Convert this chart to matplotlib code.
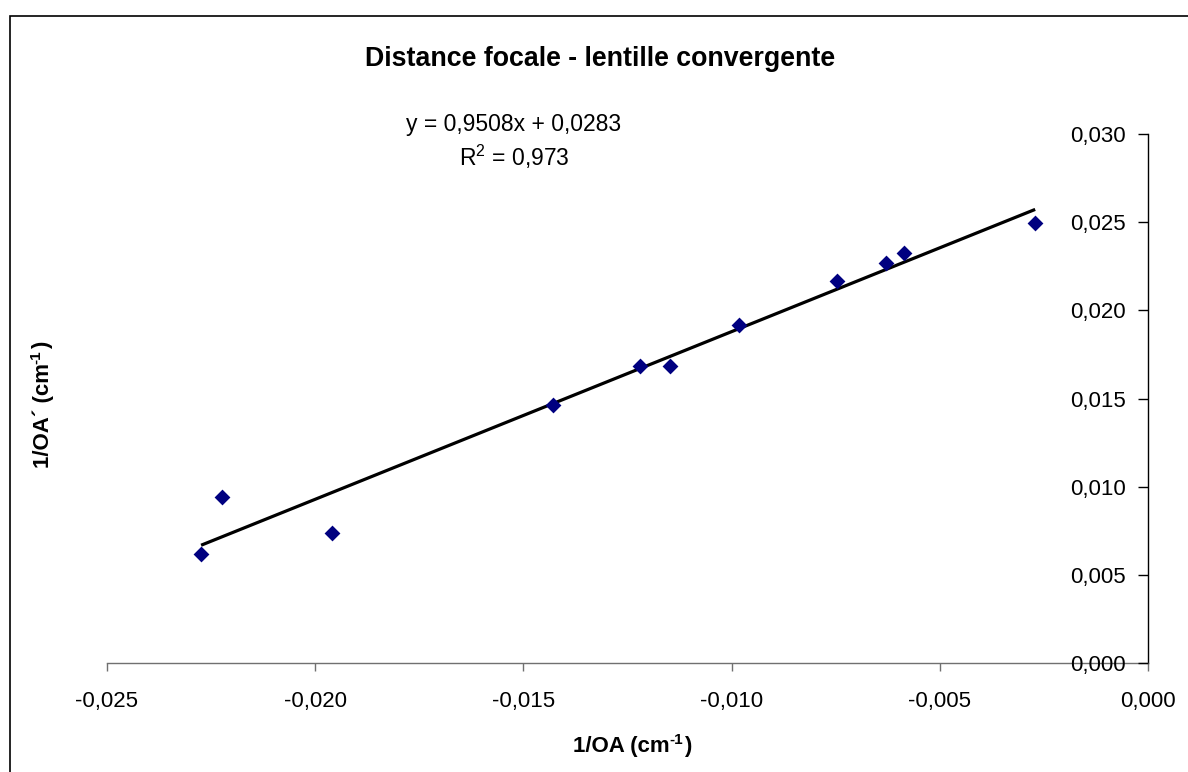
import matplotlib
matplotlib.use("Agg")
import matplotlib.pyplot as plt
from matplotlib.patches import Rectangle
import numpy as np

# Data
inv_OA = [-0.02274, -0.02224, -0.01960, -0.01429, -0.01220, -0.01148,
          -0.00982, -0.00747, -0.00629, -0.00586, -0.00271]
inv_OAp = [0.00618, 0.00941, 0.00737, 0.01463, 0.01684, 0.01684,
           0.01917, 0.02166, 0.02268, 0.02325, 0.02495]
slope = 0.9508
intercept = 0.0283
r2 = 0.973
x_ticks = [-0.025, -0.020, -0.015, -0.010, -0.005, 0.000]
y_ticks = [0.000, 0.005, 0.010, 0.015, 0.020, 0.025, 0.030]

plt.rcParams['font.family'] = ['Liberation Sans', 'DejaVu Sans']

W, H = 1188, 772
fig = plt.figure(figsize=(W / 100, H / 100), dpi=100)

# chart area border
fig.patches.append(Rectangle((10 / W, 0 - 0.01), 1.2, 1 - 16 / H + 0.01,
                             transform=fig.transFigure, fill=False,
                             edgecolor='black', linewidth=1.2))

ax = fig.add_axes([107 / W, 1 - 663 / H, (1148 - 107) / W, (663 - 134) / H])
ax.set_xlim(-0.025, 0.0)
ax.set_ylim(0.0, 0.030)

ax.scatter(inv_OA, inv_OAp, marker='D', s=65, color='#000080', zorder=3,
           linewidths=0)
xs = np.array([min(inv_OA), max(inv_OA)])
ax.plot(xs, slope * xs + intercept, color='black', lw=2.3, zorder=2,
        solid_capstyle='butt')

for s in ['top', 'right']:
    ax.spines[s].set_visible(False)
ax.spines['left'].set_position(('axes', 1.0))
ax.spines['left'].set_color('black')
ax.spines['bottom'].set_color('#707070')
ax.spines['left'].set_linewidth(1.0)
ax.spines['bottom'].set_linewidth(1.0)
ax.spines['left'].set_zorder(1)
ax.spines['bottom'].set_zorder(1)

ax.set_xticks(x_ticks)
ax.set_yticks(y_ticks)
fmt = lambda v: ('%.3f' % v).replace('.', ',').replace('-0,000', '0,000')
ax.set_xticklabels([fmt(v) for v in x_ticks])
ax.set_yticklabels([fmt(v) for v in y_ticks])
ax.tick_params(axis='x', direction='out', length=6, width=1, color='#707070',
               labelsize=16, pad=14)
ax.tick_params(axis='y', direction='out', length=7, width=1, color='black',
               labelsize=16, pad=9)
ax.patch.set_alpha(0)

fig.text(600 / W, 1 - 59 / H, 'Distance focale - lentille convergente',
         ha='center', va='center', fontsize=19.3, fontweight='bold')
eq = 'y = %sx + %s' % (('%.4f' % slope).replace('.', ','),
                       ('%.4f' % intercept).replace('.', ','))
fig.text(514 / W, 1 - 142 / H,
         eq + '\n$\\mathregular{R^2}$ = ' + ('%.3f' % r2).replace('.', ','),
         ha='center', va='center', fontsize=16.5, linespacing=1.3)

bold = dict(fontweight='bold', annotation_clip=False)

# x axis label: "1/OA (cm" + superscript "-1" + ")"
xl1 = ax.annotate('1/OA (cm', xy=(573 / W, 1 - 752 / H), xycoords='figure fraction',
                  ha='left', va='baseline', fontsize=16, **bold)
xl2 = ax.annotate('-1', xy=(1, 1), xycoords=xl1, xytext=(-0.5, -5.5),
                  textcoords='offset points', ha='left', va='baseline',
                  fontsize=11, **bold)
ax.annotate(')', xy=(1, 0), xycoords=(xl2, xl1), xytext=(1, 0),
            textcoords='offset points', ha='left', va='bottom',
            fontsize=16, **bold)

# y axis label rotated
yl1 = ax.annotate('1/OA\u00b4 (cm', xy=(54 / W, 1 - 468 / H), xycoords='figure fraction',
                  ha='right', va='bottom', fontsize=16, rotation=90, **bold)
yl2 = ax.annotate('-1', xy=(0, 1), xycoords=yl1, xytext=(8, -0.5),
                  textcoords='offset points', ha='right', va='bottom',
                  fontsize=11, rotation=90, **bold)
ax.annotate(')', xy=(0, 1), xycoords=(yl1, yl2), xytext=(0, 1),
            textcoords='offset points', ha='left', va='bottom',
            fontsize=16, rotation=90, **bold)

fig.savefig('out.png', dpi=100)
